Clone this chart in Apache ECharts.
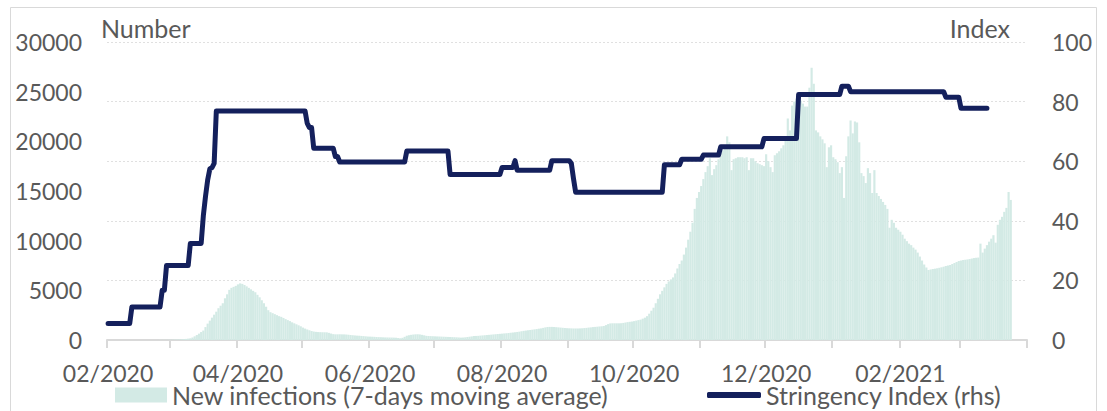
<!DOCTYPE html>
<html>
<head>
<meta charset="utf-8">
<style>
  html, body { margin: 0; padding: 0; background: #ffffff; }
  #chart { width: 1107px; height: 411px; }
</style>
<script src="https://cdn.jsdelivr.net/npm/echarts@6/dist/echarts.min.js"></script>
</head>
<body>
<div id="chart"></div>
<script>
// Daily series, 1 Feb 2020 – 31 Mar 2021
const startDate = Date.UTC(2020, 1, 1);
const dayCount = 425;

// New infections, 7-day moving average (one value per day, by month)
const infFeb20 = [0,0,0,0,0,0,0,0,0,0,0,0,0,0,0,0,0,0,0,0,0,0,2,5,8,10,12,15,20];
const infMar20 = [25,30,40,50,60,75,90,110,140,170,250,370,500,640,800,950,1300,1650,1950,2250,2550,2850,3200,3450,3700,4200,4600,5050,5250,5350,5450];
const infApr20 = [5600,5700,5650,5540,5400,5250,5100,4950,4800,4550,4300,4000,3700,3350,3000,2800,2700,2600,2500,2400,2330,2220,2100,2000,1900,1780,1680,1580,1480,1380];
const infMay20 = [1250,1150,1060,980,900,850,820,800,790,780,775,770,720,650,590,570,570,575,570,565,550,530,500,480,460,440,430,410,390,370,350];
const infJun20 = [340,330,320,300,290,280,270,260,255,250,245,240,230,200,175,220,320,430,480,520,550,570,575,560,520,470,420,400,390,380];
const infJul20 = [370,360,350,340,330,320,310,300,290,280,270,255,240,250,270,300,330,360,400,410,420,440,460,480,500,520,540,560,580,600,620];
const infAug20 = [640,660,680,700,730,760,780,810,840,880,920,950,980,1010,1040,1070,1100,1140,1170,1220,1270,1310,1320,1320,1310,1290,1270,1250,1230,1210,1190];
const infSep20 = [1180,1170,1160,1160,1160,1170,1180,1200,1220,1250,1270,1300,1320,1340,1360,1380,1410,1500,1600,1670,1680,1680,1680,1680,1690,1720,1760,1800,1830,1860];
const infOct20 = [1900,1950,2000,2050,2150,2250,2400,2650,2950,3250,3700,4150,4600,4950,5300,5650,5900,6100,6300,6700,7200,7650,8000,8600,9300,10100,10900,11800,13200,14300,14900];
const infNov20 = [15500,16200,16900,17500,18300,16600,17200,17600,18200,18800,19100,19300,20500,19900,17100,18200,18300,18400,18400,18400,18300,18400,17100,18300,18300,18000,17800,17700,17600,17500];
const infDec20 = [18700,18000,17400,16900,18600,18800,19000,19300,19600,20500,22300,21100,23600,24000,24300,24200,24100,23800,23500,23500,25400,27400,25800,21100,20900,20500,20200,19800,17400,19400,19600];
const infJan21 = [18400,18200,17900,16800,17400,14300,18500,20500,22100,20800,22000,21900,19900,16800,16500,15800,17300,16800,14800,17100,14800,14500,14200,13900,13600,13200,11300,12100,11800,11300,11100];
const infFeb21 = [10900,10600,10200,9950,9700,9550,9300,9100,8800,8400,8000,7600,7300,7050,7100,7150,7180,7220,7270,7320,7380,7450,7500,7550,7650,7750,7850,7950];
const infMar21 = [8000,8050,8080,8110,8150,8200,8250,8280,8300,9700,8800,9200,9550,9900,10200,10550,9800,11600,12100,12400,12900,13300,14900,14100];

// Stringency index (one value per day, by month)
const strFeb20 = [5.56,5.56,5.56,5.56,5.56,5.56,5.56,5.56,5.56,5.56,5.56,11.11,11.11,11.11,11.11,11.11,11.11,11.11,11.11,11.11,11.11,11.11,11.11,11.11,11.11,16.67,16.67,25,25];
const strMar20 = [25,25,25,25,25,25,25,25,25,32.41,32.41,32.41,32.41,32.41,32.41,41.67,48.15,53.7,57.41,57.87,59.26,76.85,76.85,76.85,76.85,76.85,76.85,76.85,76.85,76.85,76.85];
const strApr20 = [76.85,76.85,76.85,76.85,76.85,76.85,76.85,76.85,76.85,76.85,76.85,76.85,76.85,76.85,76.85,76.85,76.85,76.85,76.85,76.85,76.85,76.85,76.85,76.85,76.85,76.85,76.85,76.85,76.85,76.85];
const strMay20 = [76.85,76.85,72.69,71.3,71.3,64.35,64.35,64.35,64.35,64.35,64.35,64.35,64.35,64.35,64.35,61.57,61.57,59.72,59.72,59.72,59.72,59.72,59.72,59.72,59.72,59.72,59.72,59.72,59.72,59.72,59.72];
const strJun20 = [59.72,59.72,59.72,59.72,59.72,59.72,59.72,59.72,59.72,59.72,59.72,59.72,59.72,59.72,59.72,59.72,59.72,63.43,63.43,63.43,63.43,63.43,63.43,63.43,63.43,63.43,63.43,63.43,63.43,63.43];
const strJul20 = [63.43,63.43,63.43,63.43,63.43,63.43,63.43,55.56,55.56,55.56,55.56,55.56,55.56,55.56,55.56,55.56,55.56,55.56,55.56,55.56,55.56,55.56,55.56,55.56,55.56,55.56,55.56,55.56,55.56,55.56,55.56];
const strAug20 = [57.87,57.87,57.87,57.87,57.87,57.87,60.19,56.94,56.94,56.94,56.94,56.94,56.94,56.94,56.94,56.94,56.94,56.94,56.94,56.94,56.94,56.94,56.94,60.19,60.19,60.19,60.19,60.19,60.19,60.19,60.19];
const strSep20 = [60.19,59.26,54.17,49.54,49.54,49.54,49.54,49.54,49.54,49.54,49.54,49.54,49.54,49.54,49.54,49.54,49.54,49.54,49.54,49.54,49.54,49.54,49.54,49.54,49.54,49.54,49.54,49.54,49.54,49.54];
const strOct20 = [49.54,49.54,49.54,49.54,49.54,49.54,49.54,49.54,49.54,49.54,49.54,49.54,49.54,49.54,58.8,58.8,58.8,58.8,58.8,58.8,58.8,58.8,60.65,60.65,60.65,60.65,60.65,60.65,60.65,60.65,60.65];
const strNov20 = [60.65,62.04,62.04,62.04,62.04,62.04,62.04,62.04,62.04,64.81,64.81,64.81,64.81,64.81,64.81,64.81,64.81,64.81,64.81,64.81,64.81,64.81,64.81,64.81,64.81,64.81,64.81,64.81,64.81,67.59];
const strDec20 = [67.59,67.59,67.59,67.59,67.59,67.59,67.59,67.59,67.59,67.59,67.59,67.59,67.59,67.59,67.59,82.41,82.41,82.41,82.41,82.41,82.41,82.41,82.41,82.41,82.41,82.41,82.41,82.41,82.41,82.41,82.41];
const strJan21 = [82.41,82.41,82.41,82.41,85.19,85.19,85.19,85.19,83.33,83.33,83.33,83.33,83.33,83.33,83.33,83.33,83.33,83.33,83.33,83.33,83.33,83.33,83.33,83.33,83.33,83.33,83.33,83.33,83.33,83.33,83.33];
const strFeb21 = [83.33,83.33,83.33,83.33,83.33,83.33,83.33,83.33,83.33,83.33,83.33,83.33,83.33,83.33,83.33,83.33,83.33,83.33,83.33,83.33,83.33,81.48,81.48,81.48,81.48,81.48,81.48,81.48];
const strMar21 = [77.78,77.78,77.78,77.78,77.78,77.78,77.78,77.78,77.78,77.78,77.78,77.78,77.78];

const seriesNames = ['New infections (7-days moving average)', 'Stringency Index (rhs)'];
const leftTicks = { min: 0, max: 30000, step: 5000 };
const rightTicks = { min: 0, max: 100, step: 20 };

// Day categories as YYYY-MM-DD
const categories = [];
for (let i = 0; i < dayCount; i++) {
  categories.push(new Date(startDate + i * 86400000).toISOString().slice(0, 10));
}

function padTo(arr, n) {
  const out = arr.slice();
  while (out.length < n) out.push(null);
  return out;
}

const infections = padTo([].concat(infFeb20, infMar20, infApr20, infMay20, infJun20, infJul20,
  infAug20, infSep20, infOct20, infNov20, infDec20, infJan21, infFeb21, infMar21), dayCount);
const stringency = padTo([].concat(strFeb20, strMar20, strApr20, strMay20, strJun20, strJul20,
  strAug20, strSep20, strOct20, strNov20, strDec20, strJan21, strFeb21, strMar21), dayCount);

const FONT = 'Lato';
const TEXT = '#595959';
const GRAY = '#d9d9d9';
const BAR = '#d3eae5';
const NAVY = '#14205c';
const NUM_SIZE = 23;   // numeric tick labels
const WORD_SIZE = 25;  // titles and legend

const chart = echarts.init(document.getElementById('chart'), null, { renderer: 'svg' });

chart.setOption({
  animation: false,
  backgroundColor: '#ffffff',
  textStyle: { fontFamily: FONT },
  grid: { left: 107, right: 80, top: 42, bottom: 71, containLabel: false },
  graphic: [
    {
      type: 'rect', silent: true, z: 0,
      shape: { x: 10.5, y: 7.5, width: 1086, height: 420 },
      style: { fill: 'none', stroke: GRAY, lineWidth: 1 }
    },
    {
      type: 'text', left: 101, top: 15,
      style: { text: 'Number', font: WORD_SIZE + 'px ' + FONT, fill: TEXT }
    },
    {
      type: 'text', right: 97, top: 15,
      style: { text: 'Index', font: WORD_SIZE + 'px ' + FONT, fill: TEXT }
    }
  ],
  legend: [
    {
      data: [{ name: seriesNames[0], icon: 'rect' }],
      left: 115, top: 382.5, padding: 0,
      itemWidth: 52, itemHeight: 15,
      textStyle: { fontFamily: FONT, fontSize: WORD_SIZE, color: TEXT, lineHeight: 25 },
      selectedMode: false
    },
    {
      data: [{ name: seriesNames[1], icon: 'roundRect' }],
      left: 707, top: 382.5, padding: 0,
      itemWidth: 54, itemHeight: 6,
      textStyle: { fontFamily: FONT, fontSize: WORD_SIZE, color: TEXT, lineHeight: 25 },
      selectedMode: false
    }
  ],
  xAxis: {
    type: 'category',
    data: categories,
    boundaryGap: true,
    axisLine: { lineStyle: { color: GRAY, width: 2 } },
    axisTick: {
      show: true, length: 8,
      lineStyle: { color: GRAY, width: 2 },
      interval: function (idx, val) { return val.slice(8, 10) === '01'; }
    },
    axisLabel: {
      fontFamily: FONT, fontSize: NUM_SIZE, color: TEXT, margin: 21,
      interval: function (idx, val) {
        return val.slice(8, 10) === '01' && parseInt(val.slice(5, 7), 10) % 2 === 0;
      },
      formatter: function (val) { return val.slice(5, 7) + '/' + val.slice(0, 4); }
    },
    splitLine: { show: false }
  },
  yAxis: [
    {
      type: 'value',
      min: leftTicks.min, max: leftTicks.max, interval: leftTicks.step,
      axisLine: { show: false }, axisTick: { show: false },
      splitLine: { show: false },
      axisLabel: {
        fontFamily: FONT, fontSize: NUM_SIZE, color: TEXT, margin: 25,
        formatter: function (v) { return String(v); }
      }
    },
    {
      type: 'value',
      min: rightTicks.min, max: rightTicks.max, interval: rightTicks.step,
      position: 'right',
      axisLine: { show: false }, axisTick: { show: false },
      splitLine: { show: true, lineStyle: { color: '#e0e0e0', width: 1, type: [2, 2] } },
      axisLabel: {
        fontFamily: FONT, fontSize: NUM_SIZE, color: TEXT, margin: 25,
        formatter: function (v) { return String(v); }
      }
    }
  ],
  series: [
    {
      name: seriesNames[0],
      type: 'bar',
      yAxisIndex: 0,
      data: infections,
      barCategoryGap: '0%',
      itemStyle: { color: BAR },
      z: 2
    },
    {
      name: seriesNames[1],
      type: 'line',
      yAxisIndex: 1,
      data: stringency,
      symbol: 'none',
      connectNulls: false,
      itemStyle: { color: NAVY },
      lineStyle: { color: NAVY, width: 5, cap: 'round', join: 'round' },
      z: 5
    }
  ]
});
</script>
</body>
</html>
